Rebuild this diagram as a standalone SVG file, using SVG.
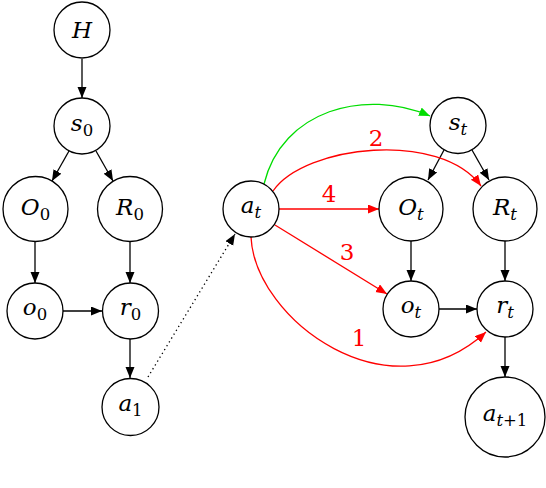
<svg xmlns="http://www.w3.org/2000/svg" width="546" height="488" viewBox="0 0 546 488">
<style>
.n{fill:#fff;stroke:#000;stroke-width:1.3}
text{font-family:'DejaVu Serif',serif}
.t{font-size:23px;font-style:italic;text-anchor:middle}
.s{font-style:normal;font-size:16.5px}
.si{font-style:italic;font-size:16.5px}
.e{fill:none;stroke:#000;stroke-width:1.3}
.r{fill:none;stroke:#f00;stroke-width:1.3}
.g{fill:none;stroke:#0d0;stroke-width:1.3}
.l{font-size:23px;fill:#f00;text-anchor:middle}
</style>
<defs>
<marker id="ak" markerUnits="userSpaceOnUse" markerWidth="12" markerHeight="10" refX="11" refY="4.5" orient="auto"><path d="M0,0 L11,4.5 L0,9 z" fill="#000"/></marker>
<marker id="ar" markerUnits="userSpaceOnUse" markerWidth="12" markerHeight="10" refX="11" refY="4.5" orient="auto"><path d="M0,0 L11,4.5 L0,9 z" fill="#f00"/></marker>
<marker id="ag" markerUnits="userSpaceOnUse" markerWidth="12" markerHeight="10" refX="11" refY="4.5" orient="auto"><path d="M0,0 L11,4.5 L0,9 z" fill="#0d0"/></marker>
</defs>
<g id="connectors">
<line class="e" x1="82" y1="59" x2="82" y2="98" marker-end="url(#ak)"/>
<line class="e" x1="69" y1="151" x2="52" y2="181" marker-end="url(#ak)"/>
<line class="e" x1="96" y1="151" x2="113" y2="181" marker-end="url(#ak)"/>
<line class="e" x1="35" y1="242" x2="35" y2="283" marker-end="url(#ak)"/>
<line class="e" x1="130" y1="242" x2="130" y2="283" marker-end="url(#ak)"/>
<line class="e" x1="63" y1="311" x2="102" y2="311" marker-end="url(#ak)"/>
<line class="e" x1="130" y1="339" x2="130" y2="378" marker-end="url(#ak)"/>
<line class="e" x1="148" y1="377" x2="235" y2="234" stroke-dasharray="1.3 3.2" marker-end="url(#ak)"/>
<line class="e" x1="444" y1="150" x2="428" y2="180" marker-end="url(#ak)"/>
<line class="e" x1="472" y1="150" x2="489" y2="180" marker-end="url(#ak)"/>
<line class="e" x1="411" y1="241" x2="411" y2="281" marker-end="url(#ak)"/>
<line class="e" x1="505" y1="241" x2="505" y2="281" marker-end="url(#ak)"/>
<line class="e" x1="439" y1="309" x2="477" y2="309" marker-end="url(#ak)"/>
<line class="e" x1="505" y1="337" x2="505" y2="377" marker-end="url(#ak)"/>
<path class="g" d="M264,184 C282,110 365,88 430,116" marker-end="url(#ag)"/>
<path class="r" d="M273,191 C305,145 440,130 481,186" marker-end="url(#ar)"/>
<line class="r" x1="279" y1="209" x2="379" y2="209" marker-end="url(#ar)"/>
<line class="r" x1="275" y1="225" x2="387" y2="294" marker-end="url(#ar)"/>
<path class="r" d="M251,237 C255,320 390,420 486,332" marker-end="url(#ar)"/>
<text class="l" x="376" y="146">2</text>
<text class="l" x="329" y="202">4</text>
<text class="l" x="347" y="260">3</text>
<text class="l" x="359" y="346">1</text>
</g>
<g id="H"><circle class="n" cx="82" cy="30" r="28"/><text class="t" x="82" y="38">H</text></g>
<g id="s0"><circle class="n" cx="82" cy="126" r="28"/><text class="t" x="82" y="131">s<tspan class="s" dy="5">0</tspan></text></g>
<g id="O0"><circle class="n" cx="35.5" cy="209" r="32.5"/><text class="t" x="35.5" y="215">O<tspan class="s" dy="5">0</tspan></text></g>
<g id="R0"><circle class="n" cx="130" cy="209" r="32.5"/><text class="t" x="130" y="215">R<tspan class="s" dy="5">0</tspan></text></g>
<g id="o0"><circle class="n" cx="35" cy="311" r="28"/><text class="t" x="35" y="315">o<tspan class="s" dy="5">0</tspan></text></g>
<g id="r0"><circle class="n" cx="130.5" cy="311" r="28"/><text class="t" x="130.5" y="315">r<tspan class="s" dy="5">0</tspan></text></g>
<g id="a1"><circle class="n" cx="130.5" cy="407" r="28.5"/><text class="t" x="130.5" y="411">a<tspan class="s" dy="5">1</tspan></text></g>
<g id="at"><circle class="n" cx="251" cy="209" r="28"/><text class="t" x="251" y="213">a<tspan class="si" dy="5">t</tspan></text></g>
<g id="st"><circle class="n" cx="458" cy="125.5" r="28"/><text class="t" x="458" y="130">s<tspan class="si" dy="5">t</tspan></text></g>
<g id="Ot"><circle class="n" cx="411" cy="209" r="32"/><text class="t" x="411" y="215">O<tspan class="si" dy="5">t</tspan></text></g>
<g id="Rt"><circle class="n" cx="505" cy="209" r="32"/><text class="t" x="505" y="215">R<tspan class="si" dy="5">t</tspan></text></g>
<g id="ot"><circle class="n" cx="411" cy="309" r="28"/><text class="t" x="411" y="313">o<tspan class="si" dy="5">t</tspan></text></g>
<g id="rt"><circle class="n" cx="505" cy="309" r="28"/><text class="t" x="505" y="313">r<tspan class="si" dy="5">t</tspan></text></g>
<g id="at1"><circle class="n" cx="505" cy="417" r="40"/><text class="t" x="505" y="421">a<tspan class="si" dy="5">t</tspan><tspan class="s">+1</tspan></text></g>
</svg>
